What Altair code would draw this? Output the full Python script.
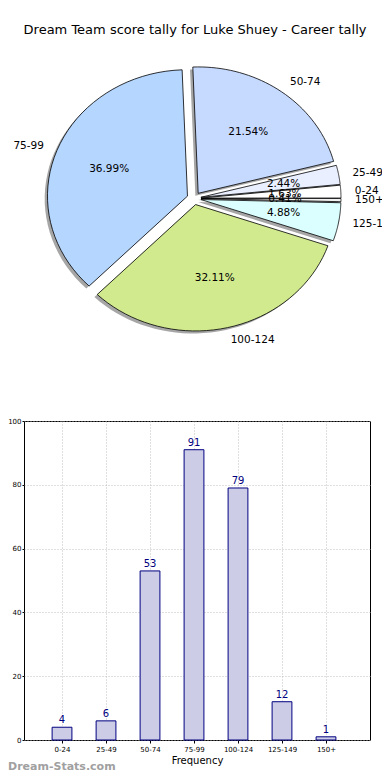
import json
import altair as alt
import pandas as pd

# ---------------- data ----------------
categories = ["0-24", "25-49", "50-74", "75-99", "100-124", "125-149", "150+"]
counts = [4, 6, 53, 91, 79, 12, 1]
pie_colors = ["#ffffff", "#e9efff", "#c6d9ff", "#b5d6ff", "#d1ea8e", "#dbffff", "#f2f2f2"]
title_text = "Dream Team score tally for Luke Shuey - Career tally"
y_ticks = [0, 20, 40, 60, 80, 100]
watermark_text = "Dream-Stats.com"

FONT = "DejaVu Sans"

# Layout: the bar plot area is the chart's view; the pie is drawn above it in pixels
PAD_L, PAD_T = 16, 413
PLOT_W, PLOT_H = 346, 319
SVG_W, SVG_H = 374, 764

# pie geometry (relative to the bar plot's top-left corner), elliptical like the original
CX, CY = 170, -222.6
RX, RY = 140, 126.4
EXPLODE = 0.05
SHADOW = 0.02
NSEG = 40

pie_df = pd.DataFrame({
    "cat": categories,
    "value": counts,
    "color": pie_colors,
    "order": list(range(len(categories))),
})

base = (
    alt.Chart(pie_df)
    .transform_joinaggregate(total="sum(value)")
    .transform_window(cum="sum(value)", sort=[alt.SortField("order")], frame=[None, 0])
    .transform_calculate(
        a0="2*PI*(datum.cum-datum.value)/datum.total",
        a1="2*PI*datum.cum/datum.total",
    )
    .transform_calculate(am="(datum.a0+datum.a1)/2")
    .transform_calculate(
        ex=f"{CX}+{EXPLODE * RX}*cos(datum.am)",
        ey=f"{CY}-{EXPLODE * RY}*sin(datum.am)",
    )
)

poly_base = (
    base.transform_calculate(k=f"sequence(-1, {NSEG + 2})")
    .transform_flatten(["k"])
    .transform_calculate(
        kk=f"clamp(datum.k, 0, {NSEG})",
        edge=f"datum.k >= 0 && datum.k <= {NSEG}",
    )
    .transform_calculate(t=f"datum.a0 + (datum.a1 - datum.a0)*datum.kk/{NSEG}")
    .transform_calculate(
        px=f"datum.edge ? datum.ex + {RX}*cos(datum.t) : datum.ex",
        py=f"datum.edge ? datum.ey - {RY}*sin(datum.t) : datum.ey",
    )
)

shadow = (
    poly_base.transform_calculate(
        sx=f"datum.px - {SHADOW * RX}", sy=f"datum.py + {SHADOW * RY}"
    )
    .mark_line(strokeWidth=0, interpolate="linear")
    .encode(
        x=alt.X("sx:Q", scale=None, axis=None),
        y=alt.Y("sy:Q", scale=None, axis=None),
        detail="cat:N",
        order="k:Q",
        fill=alt.value("#4d4d4d"),
        fillOpacity=alt.value(0.5),
        strokeOpacity=alt.value(0),
    )
)

wedges = poly_base.mark_line(
    stroke="black", strokeWidth=0.8, interpolate="linear"
).encode(
    x=alt.X("px:Q", scale=None, axis=None),
    y=alt.Y("py:Q", scale=None, axis=None),
    detail="cat:N",
    order="k:Q",
    fill=alt.Fill("color:N", scale=None, legend=None),
)

lab_base = base.transform_calculate(
    lx=f"datum.ex + 1.1*{RX}*cos(datum.am)",
    ly=f"datum.ey - 1.1*{RY}*sin(datum.am)",
    qx=f"datum.ex + 0.6*{RX}*cos(datum.am)",
    qy=f"datum.ey - 0.6*{RY}*sin(datum.am)",
    pct="format(100*datum.value/datum.total, '.2f') + '%'",
    side="cos(datum.am) >= 0 ? 1 : 0",
)

labels_right = (
    lab_base.transform_filter("datum.side == 1")
    .mark_text(align="left", baseline="middle", fontSize=10.5, font=FONT, color="black")
    .encode(x=alt.X("lx:Q", scale=None, axis=None), y=alt.Y("ly:Q", scale=None, axis=None), text="cat:N")
)
labels_left = (
    lab_base.transform_filter("datum.side == 0")
    .mark_text(align="right", baseline="middle", fontSize=10.5, font=FONT, color="black")
    .encode(x=alt.X("lx:Q", scale=None, axis=None), y=alt.Y("ly:Q", scale=None, axis=None), text="cat:N")
)
pct_labels = lab_base.mark_text(
    align="center", baseline="middle", fontSize=10.5, font=FONT, color="black"
).encode(x=alt.X("qx:Q", scale=None, axis=None), y=alt.Y("qy:Q", scale=None, axis=None), text="pct:N")

title_mark = (
    alt.Chart(pd.DataFrame({"t": [title_text]}))
    .mark_text(align="center", baseline="middle", fontSize=13, font=FONT, color="black")
    .encode(x=alt.value(171), y=alt.value(-391), text="t:N")
)

# ---------------- bar chart ----------------
bar_df = pd.DataFrame({"cat": categories, "value": counts, "idx": list(range(len(categories)))})

label_expr = json.dumps(categories) + "[datum.value]"

x_enc = alt.X(
    "idx:Q",
    scale=alt.Scale(domain=[-0.864, len(categories)], nice=False, zero=False, padding=0),
    axis=alt.Axis(
        values=list(range(len(categories))),
        labelExpr=label_expr,
        title="Frequency",
        titleFontSize=10,
        titleFontWeight="normal",
        titleFont=FONT,
        titleColor="black",
        titlePadding=3,
        labelFontSize=7,
        labelFont=FONT,
        labelColor="black",
        labelPadding=2,
        tickSize=3,
        tickColor="black",
        domain=False,
        grid=True,
        gridDash=[1, 2],
        gridColor="#b0b0b0",
        gridWidth=0.8,
    ),
)
y_enc = alt.Y(
    "value:Q",
    scale=alt.Scale(domain=[0, 100], nice=False, padding=0),
    axis=alt.Axis(
        values=y_ticks,
        title=None,
        labelFontSize=7,
        labelFont=FONT,
        labelColor="black",
        labelPadding=1,
        tickSize=2,
        tickColor="black",
        domain=False,
        grid=True,
        gridDash=[1, 2],
        gridColor="#b0b0b0",
        gridWidth=0.8,
    ),
)

bars = alt.Chart(bar_df).mark_bar(
    size=19.8, fill="#ccccE6", stroke="navy", strokeWidth=1
).encode(x=x_enc, y=y_enc)

bar_text = alt.Chart(bar_df).mark_text(
    baseline="bottom", align="center", dy=-2, fontSize=10, font=FONT, color="navy"
).encode(x=alt.X("idx:Q"), y=alt.Y("value:Q"), text="value:Q")

watermark = (
    alt.Chart(pd.DataFrame({"w": [watermark_text]}))
    .mark_text(align="left", baseline="middle", fontSize=11, fontWeight="bold",
               font=FONT, color="#a0a0a0")
    .encode(x=alt.value(-16), y=alt.value(346), text="w:N")
)

chart = (
    alt.layer(bars, bar_text, shadow, wedges, labels_left, labels_right, pct_labels,
              title_mark, watermark)
    .properties(
        width=PLOT_W,
        height=PLOT_H,
        autosize=alt.AutoSizeParams(type="none"),
        padding={"left": PAD_L, "top": PAD_T,
                 "right": SVG_W - PAD_L - PLOT_W, "bottom": SVG_H - PAD_T - PLOT_H},
        view=alt.ViewBackground(stroke="black", strokeWidth=1),
    )
    .configure(font=FONT)
)

chart.save("out.html", embed_options={"renderer": "svg", "actions": False})
